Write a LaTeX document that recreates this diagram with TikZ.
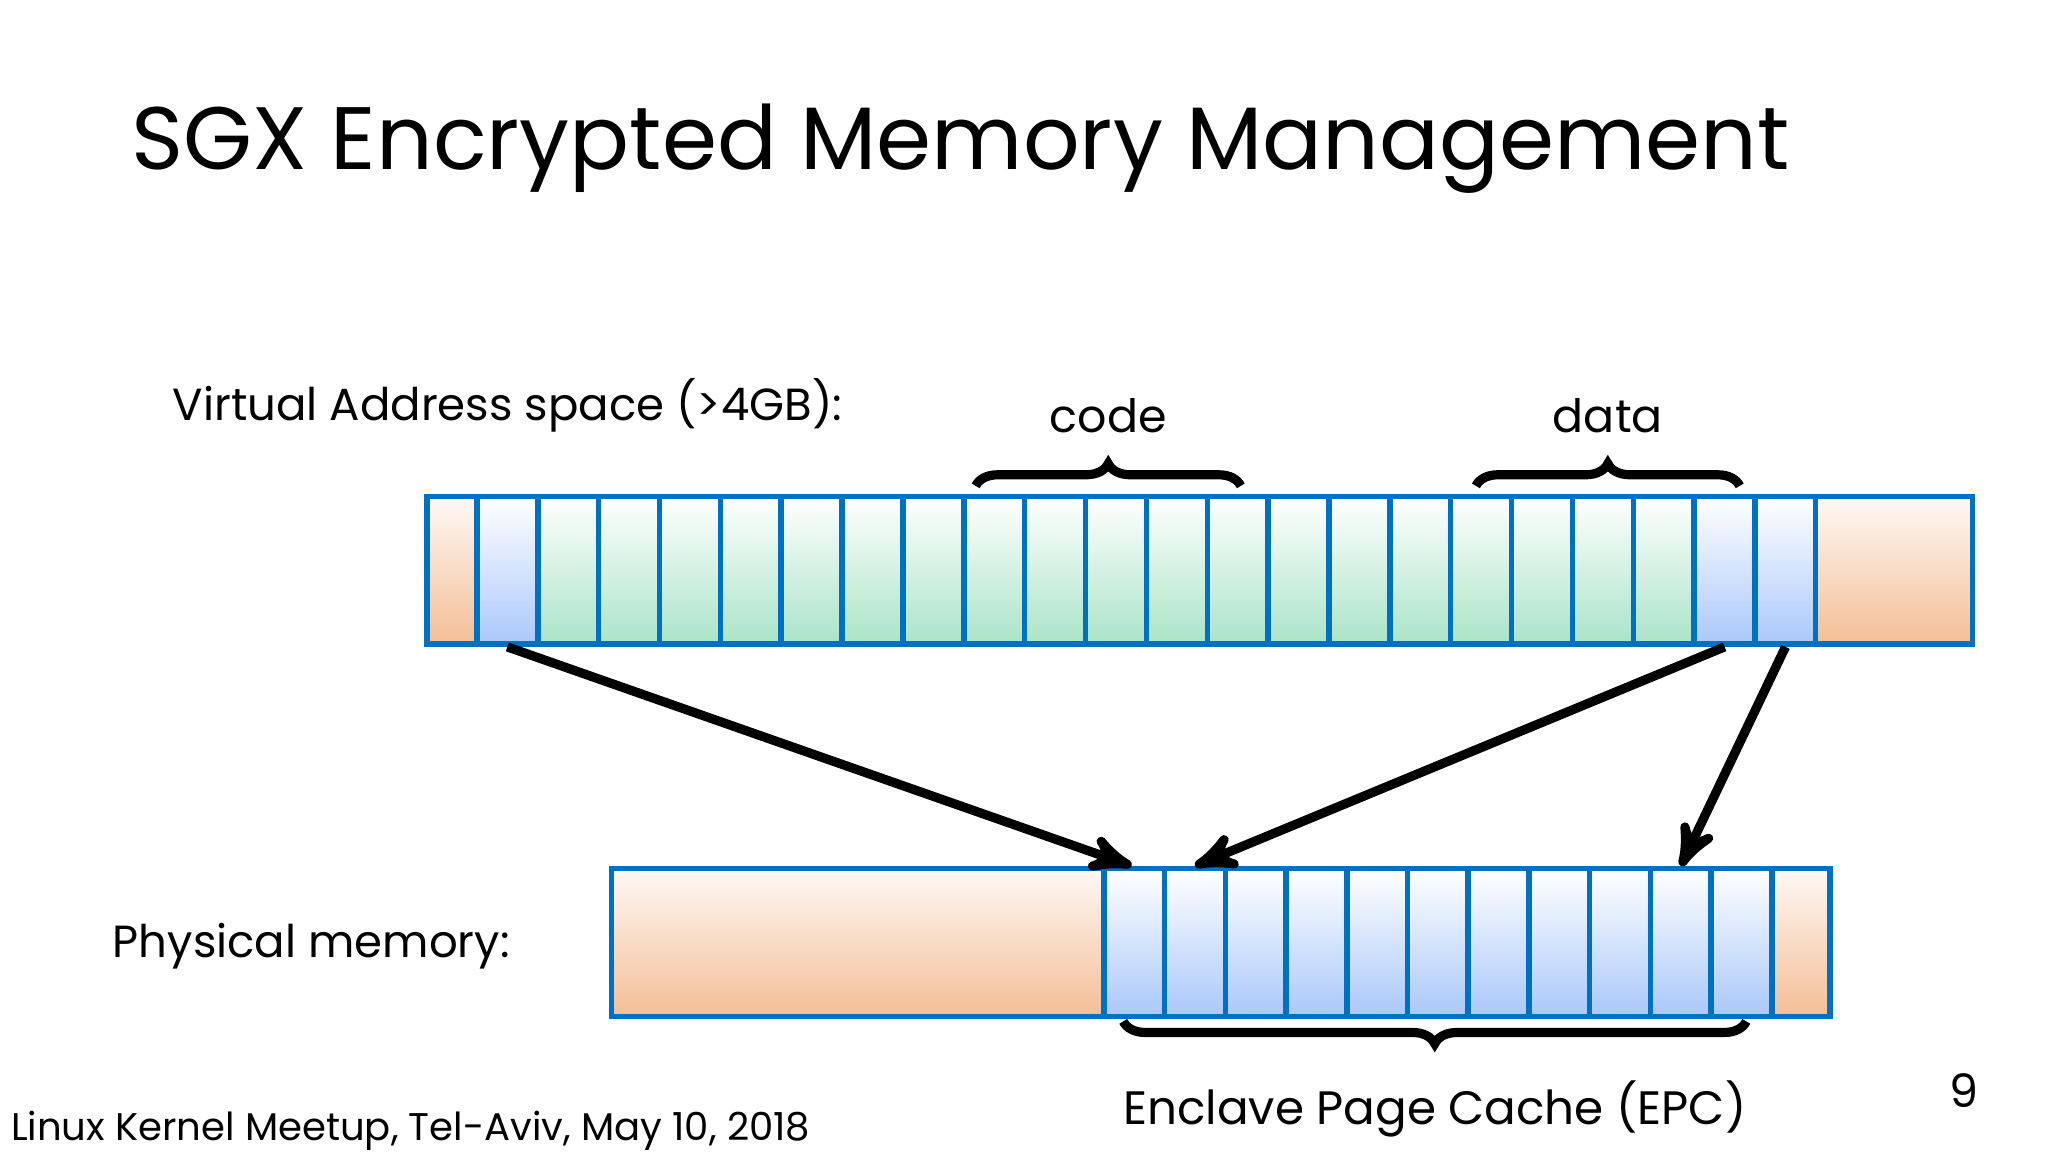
\documentclass[tikz,border=0pt]{standalone}
\usepackage{fontspec}
\setmainfont{Poppins}
\usetikzlibrary{arrows,calc,positioning,decorations.pathreplacing}
\definecolor{cellline}{RGB}{0,112,192}
\definecolor{blue1}{RGB}{170,200,250}
\definecolor{green1}{RGB}{170,228,200}
\definecolor{orange1}{RGB}{244,190,150}
\tikzset{
    >=stealth',
    cell/.style={
           draw=cellline, line width=1.2pt,
           minimum width=0.466cm, minimum height=1.13cm,
           inner sep=0pt, anchor=north west},
    epc/.style={cell, top color=white, bottom color=blue1},
    app/.style={cell, top color=white, bottom color=green1},
    rest/.style={cell, top color=white!90!orange1, bottom color=orange1},
    pil/.style={->, line width=2pt},
    brc/.style={decorate, decoration={brace, amplitude=0.17cm}, line width=2pt}
}
\begin{document}
\begin{tikzpicture}[x=0.01cm, y=-0.01cm]
          \useasboundingbox (0,0) rectangle (1568,882);
          \node[anchor=base west, font=\fontsize{19.3}{23}\selectfont] (title) at (88,130) {SGX Encrypted Memory Management};
          \node[anchor=base west, font=\fontsize{9.8}{12}\selectfont] (vlabel) at (120,322) {Virtual Address space (>4GB):};
          \node[anchor=base west, font=\fontsize{9.8}{12}\selectfont] (plabel) at (74,733) {Physical memory:};
          % virtual address space
          \node[rest, minimum width=0.38cm] (vl) at (325,378) {};
          \foreach \i in {1,...,22} {
            \ifnum\i=1 \def\st{epc}\else\ifnum\i>20 \def\st{epc}\else\def\st{app}\fi\fi
            \node[\st] (v\i) at ({363+46.6*(\i-1)},378) {};
          }
          \node[rest, minimum width=1.2cm] (vr) at (1388,378) {};
          % physical memory
          \node[rest, minimum width=3.77cm] (pl) at (466,663) {};
          \foreach \i in {1,...,11}
            \node[epc] (p\i) at ({843+46.5*(\i-1)},663) {};
          \node[rest, minimum width=0.44cm] (pr) at (1355,663) {};
          % braces
          \draw[brc] (747,372) -- (950,372) node[midway, above=0.25cm, font=\fontsize{10}{12}\selectfont] (code) {code};
          \draw[brc] (1130,372) -- (1332,372) node[midway, above=0.25cm, font=\fontsize{10}{12}\selectfont] (data) {data};
          \draw[brc] (1337,782) -- (860,782) node[midway, below=0.3cm, font=\fontsize{10.2}{12}\selectfont] (epcl) {Enclave Page Cache (EPC)};
          % mappings
          \draw[pil] (v1.south) -- ([xshift=-0.02cm]p1.north);
          \draw[pil] (v21.south) -- (p2.north);
          \draw[pil] (v22.south) -- (p10.north);
          \node[anchor=base west, font=\fontsize{8.4}{10}\selectfont] (foot) at (-4,873) {Linux Kernel Meetup, Tel-Aviv, May 10, 2018};
          \node[anchor=base, font=\fontsize{10}{12}\selectfont] (page) at (1504,848) {9};
\end{tikzpicture}
\end{document}
